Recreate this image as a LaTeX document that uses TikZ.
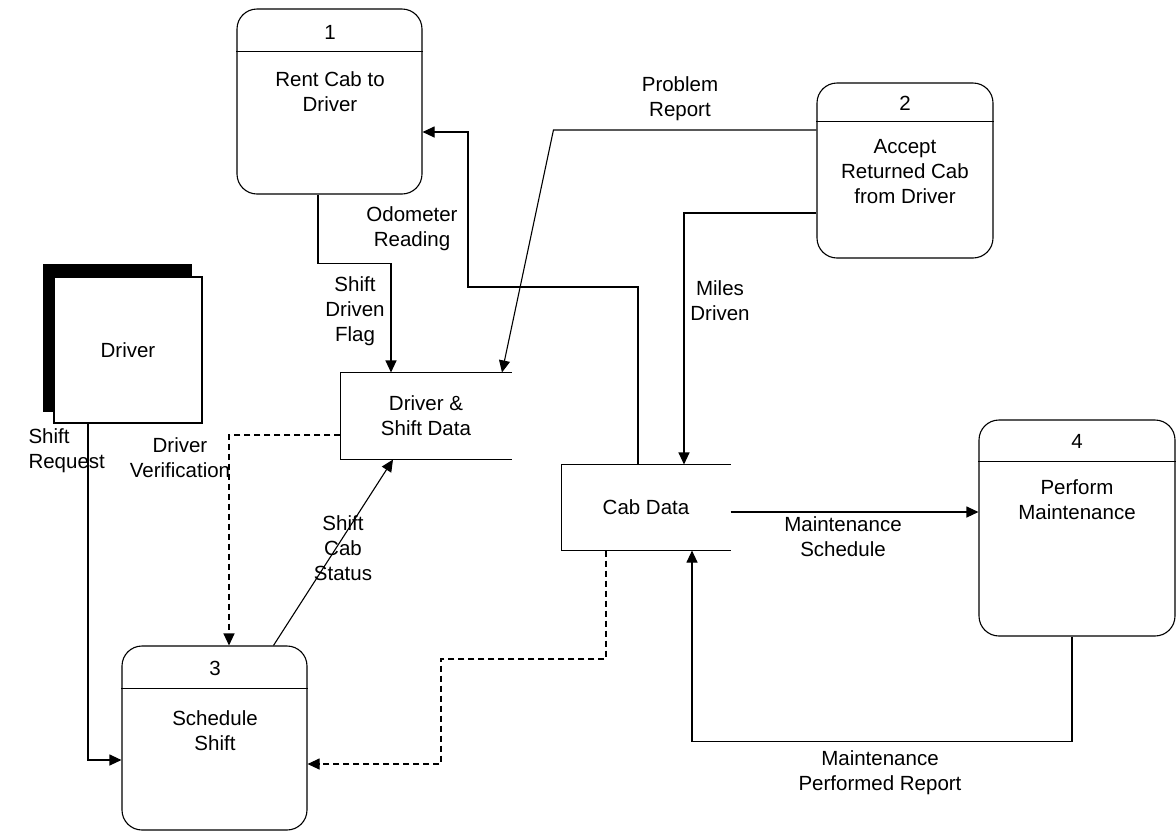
\documentclass[tikz,border=0pt]{standalone}
\usepackage{fontspec}
\setmainfont{Liberation Sans}
\usetikzlibrary{arrows.meta}

\tikzset{
  proc/.style={draw,rounded corners=20pt,inner sep=0pt},
  store/.style={inner sep=0pt,minimum width=170pt,minimum height=86pt,align=center},
  flow/.style={-{Triangle[length=12pt,width=11pt]}},
  dflow/.style={flow,dash pattern=on 6pt off 4pt},
  lbl/.style={align=center,inner sep=0pt}
}

\begin{document}
\begin{tikzpicture}[x=1pt,y=-1pt,line width=1.1pt,font=\fontsize{20.5}{25}\selectfont]
        \useasboundingbox (0,0) rectangle (1176,831);
        % processes
        \node[proc,minimum width=185pt,minimum height=185pt] (p1) at (329.5,101.5) {};
        \draw ([yshift=-43pt]p1.north west) -- ([yshift=-43pt]p1.north east);
        \node[lbl] (p1num) at (330,32) {1};
        \node[lbl] (p1txt) at (330,92) {Rent Cab to\\Driver};
        \node[proc,minimum width=176pt,minimum height=175pt] (p2) at (905,170.5) {};
        \draw ([yshift=-39pt]p2.north west) -- ([yshift=-39pt]p2.north east);
        \node[lbl] (p2num) at (905,103) {2};
        \node[lbl] (p2txt) at (905,172) {Accept\\Returned Cab\\from Driver};
        \node[proc,minimum width=185pt,minimum height=184pt] (p3) at (214.5,738) {};
        \draw ([yshift=-43pt]p3.north west) -- ([yshift=-43pt]p3.north east);
        \node[lbl] (p3num) at (215,668) {3};
        \node[lbl] (p3txt) at (215,731) {Schedule\\Shift};
        \node[proc,minimum width=196pt,minimum height=216pt] (p4) at (1077,528) {};
        \draw ([yshift=-42pt]p4.north west) -- ([yshift=-42pt]p4.north east);
        \node[lbl] (p4num) at (1077,441) {4};
        \node[lbl] (p4txt) at (1077,500) {Perform\\Maintenance};
        % external entity
        \node[fill=black,minimum width=149pt,minimum height=148pt] (drvsh) at (117.5,338) {};
        \node[draw,fill=white,minimum width=148pt,minimum height=146pt] (drv) at (128,350) {Driver};
        % data stores
        \node[store] (ds) at (426,416) {Driver \&\\Shift Data};
        \draw (ds.north east) -- (ds.north west) -- (ds.south west) -- (ds.south east);
        \node[store,minimum width=168pt,minimum height=85pt] (cab) at (646,507.5) {Cab Data};
        \draw (cab.north east) -- (cab.north west) -- (cab.south west) -- (cab.south east);
        % flows
        \draw[flow] ([xshift=-11.5pt]p1.south) -- ++(0,69) -| ([xshift=-35pt]ds.north);
        \draw[flow] ([xshift=-8pt]cab.north) |- (468,287) |- ([yshift=-30.5pt]p1.east);
        \draw[flow] ([yshift=40.5pt]p2.west) -- ++(-263,0) -- ([xshift=76pt]ds.north);
        \draw[flow] ([yshift=-42.5pt]p2.west) -| ([xshift=38pt]cab.north);
        \draw[dflow] ([yshift=-19pt]ds.west) -| ([xshift=14.5pt]p3.north);
        \draw[flow] ([xshift=59pt]p3.north) -- ([xshift=-33pt]ds.south);
        \draw[flow] ([xshift=-40pt]drv.south) |- ([yshift=-22pt]p3.west);
        \draw[dflow] ([xshift=-40pt]cab.south) |- (441,659) |- ([yshift=-26pt]p3.east);
        \draw[flow] ([yshift=-4.5pt]cab.east) -- ([yshift=16pt]p4.west);
        \draw[flow] ([xshift=-5pt]p4.south) -- ++(0,105) -| ([xshift=46pt]cab.south);
        % flow labels
        \node[lbl] (lprob) at (680,99) {Problem\\Report};
        \node[lbl] (lodo) at (412,229) {Odometer\\Reading};
        \node[lbl] (lflag) at (355,311) {Shift\\Driven\\Flag};
        \node[lbl] (lmiles) at (720,301) {Miles\\Driven};
        \node[lbl,align=left,anchor=west] (lreq) at (28,451) {Shift\\Request};
        \node[lbl] (lverif) at (180,458) {Driver\\Verification};
        \node[lbl] (lstat) at (343,548) {Shift\\Cab\\Status};
        \node[lbl] (lsched) at (843,537) {Maintenance\\Schedule};
        \node[lbl] (lperf) at (880,773) {Maintenance\\Performed Report};
    \end{tikzpicture}
\end{document}
